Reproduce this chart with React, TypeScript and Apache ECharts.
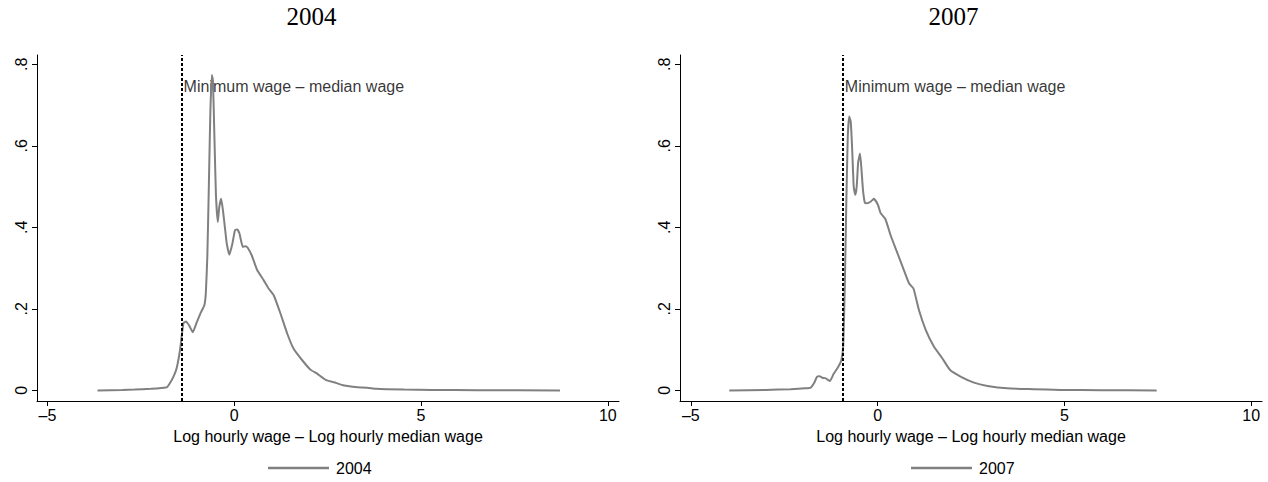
import React, { useEffect, useRef } from "react";
import * as echarts from "echarts";

// ---- data ----
const x2004 = [-3.66, -3.0, -2.67, -2.23, -1.95, -1.8, -1.72, -1.62, -1.54, -1.45, -1.36, -1.29, -1.2, -1.11, -1.0, -0.91, -0.8, -0.76, -0.72, -0.68, -0.64, -0.6, -0.57, -0.53, -0.49, -0.44, -0.4, -0.35, -0.3, -0.25, -0.2, -0.13, -0.05, 0.02, 0.08, 0.14, 0.23, 0.3, 0.36, 0.47, 0.61, 0.79, 0.92, 1.06, 1.24, 1.42, 1.59, 1.82, 2.04, 2.22, 2.45, 2.67, 2.94, 3.3, 3.57, 3.8, 4.55, 5.3, 6.5, 8.72];
const y2004 = [0, 0.001, 0.002, 0.004, 0.006, 0.008, 0.018, 0.035, 0.055, 0.1, 0.165, 0.169, 0.158, 0.143, 0.168, 0.188, 0.209, 0.24, 0.33, 0.5, 0.68, 0.774, 0.76, 0.62, 0.48, 0.413, 0.45, 0.47, 0.44, 0.4, 0.36, 0.333, 0.36, 0.393, 0.395, 0.385, 0.352, 0.354, 0.35, 0.331, 0.296, 0.27, 0.25, 0.233, 0.188, 0.139, 0.102, 0.074, 0.051, 0.041, 0.026, 0.02, 0.012, 0.008, 0.0066, 0.004, 0.002, 0.001, 0.0005, 0];

const x2007 = [-3.97, -3.0, -2.33, -1.95, -1.79, -1.7, -1.62, -1.55, -1.48, -1.4, -1.28, -1.18, -1.06, -0.97, -0.92, -0.88, -0.84, -0.8, -0.76, -0.72, -0.68, -0.64, -0.6, -0.56, -0.52, -0.47, -0.43, -0.39, -0.34, -0.28, -0.19, -0.1, 0.01, 0.08, 0.21, 0.35, 0.53, 0.7, 0.84, 0.96, 1.11, 1.29, 1.51, 1.73, 1.94, 2.22, 2.58, 2.94, 3.47, 4.18, 4.9, 6.0, 7.47];
const y2007 = [0, 0.001, 0.003, 0.005, 0.007, 0.018, 0.034, 0.035, 0.031, 0.03, 0.023, 0.04, 0.057, 0.074, 0.11, 0.25, 0.45, 0.62, 0.672, 0.66, 0.59, 0.5, 0.48, 0.5, 0.56, 0.581, 0.54, 0.49, 0.46, 0.459, 0.463, 0.47, 0.455, 0.435, 0.42, 0.38, 0.337, 0.296, 0.263, 0.25, 0.196, 0.148, 0.107, 0.079, 0.05, 0.034, 0.019, 0.011, 0.005, 0.003, 0.001, 0.0005, 0];

const panelTitles = ["2004", "2007"];
const minWageGap = [-1.41, -0.93];
const annotationY = 0.745;
const annotationText = "Minimum wage \u2013 median wage";
const xTicks = [-5, 0, 5, 10];
const yTicks = [0, 0.2, 0.4, 0.6, 0.8];
const yTickLabels = ["0", ".2", ".4", ".6", ".8"];
const xAxisTitle = "Log hourly wage \u2013 Log hourly median wage";

const SANS = "'Liberation Sans', Arial, Helvetica, sans-serif";
const SERIF = "'Liberation Serif', 'Times New Roman', serif";
const LINE = "#808080";

function pairs(xs: number[], ys: number[]) {
  return xs.map((x, i) => [x, ys[i]]);
}

export default function App() {
  const ref = useRef<HTMLDivElement>(null);
  useEffect(() => {
    document.body.style.margin = "0";
    const chart = echarts.init(ref.current!, undefined, { renderer: "svg" });
    const grids = [
      { left: 37, top: 55, width: 582, height: 346 },
      { left: 680, top: 55, width: 582, height: 346 },
    ];
    const xMin = [-5.28, -5.29];
    const xMax = [10.3, 10.29];
    const xAxes = grids.map((_, i) => ({
      type: "value",
      gridIndex: i,
      min: xMin[i],
      max: xMax[i],
      name: xAxisTitle,
      nameLocation: "middle",
      nameGap: 27,
      nameTextStyle: { fontFamily: SANS, fontSize: 16, color: "#000" },
      splitLine: { show: false },
      axisLine: { show: true, onZero: false, lineStyle: { color: "#000", width: 1 } },
      axisTick: { show: true, length: 5, customValues: xTicks, lineStyle: { color: "#000" } },
      axisLabel: {
        customValues: xTicks,
        margin: 6,
        fontFamily: SANS,
        fontSize: 16,
        color: "#000",
        formatter: (v: number) => (v < 0 ? "\u2013" + Math.abs(v) : String(v)),
      },
    }));
    const yAxes = grids.map((_, i) => ({
      type: "value",
      gridIndex: i,
      min: -0.026,
      max: 0.823,
      splitLine: { show: false },
      axisLine: { show: true, onZero: false, lineStyle: { color: "#000", width: 1 } },
      axisTick: { show: true, length: 5, customValues: yTicks, lineStyle: { color: "#000" } },
      axisLabel: {
        customValues: yTicks,
        rotate: 90,
        margin: 8,
        fontFamily: SANS,
        fontSize: 16,
        color: "#000",
        formatter: (v: number) => {
          const k = yTicks.findIndex((t) => Math.abs(t - v) < 1e-9);
          return k >= 0 ? yTickLabels[k] : "";
        },
      },
    }));
    const datas = [pairs(x2004, y2004), pairs(x2007, y2007)];
    const series: any[] = [];
    datas.forEach((d, i) => {
      series.push({
        name: panelTitles[i],
        type: "line",
        xAxisIndex: i,
        yAxisIndex: i,
        data: d,
        showSymbol: false,
        smooth: 0.15,
        lineStyle: { color: LINE, width: 2 },
        itemStyle: { color: LINE },
        z: 3,
        markLine: {
          silent: true,
          symbol: "none",
          label: { show: false },
          lineStyle: { color: "#000", type: [3, 2], width: 2 },
          emphasis: { disabled: true },
          data: [{ xAxis: minWageGap[i] }],
        },
      });
      series.push({
        name: "annot" + i,
        type: "scatter",
        xAxisIndex: i,
        yAxisIndex: i,
        symbolSize: 0,
        silent: true,
        data: [[minWageGap[i], annotationY]],
        label: {
          show: true,
          position: "right",
          distance: 2,
          formatter: annotationText,
          fontFamily: SANS,
          fontSize: 16,
          color: "#000",
        },
      });
    });
    const legendLeft = [263, 906];
    chart.setOption({
      animation: false,
      backgroundColor: "#fff",
      grid: grids,
      xAxis: xAxes,
      yAxis: yAxes,
      series,
      legend: legendLeft.map((l, i) => ({
        data: [panelTitles[i]],
        left: l,
        top: 455,
        icon: "rect",
        itemWidth: 61,
        itemHeight: 2.5,
        selectedMode: false,
        textStyle: { fontFamily: SANS, fontSize: 16, color: "#000", padding: [0, 0, 0, 2] },
      })),
      graphic: [311.5, 953.5].map((cx, i) => ({
        type: "text",
        x: cx,
        y: 16,
        style: {
          text: panelTitles[i],
          fontFamily: SERIF,
          fontSize: 25,
          fill: "#000",
          align: "center",
          verticalAlign: "middle",
        },
      })),
    });
    return () => chart.dispose();
  }, []);
  return <div ref={ref} style={{ position: "absolute", left: 0, top: 0, width: 1268, height: 482 }} />;
}
